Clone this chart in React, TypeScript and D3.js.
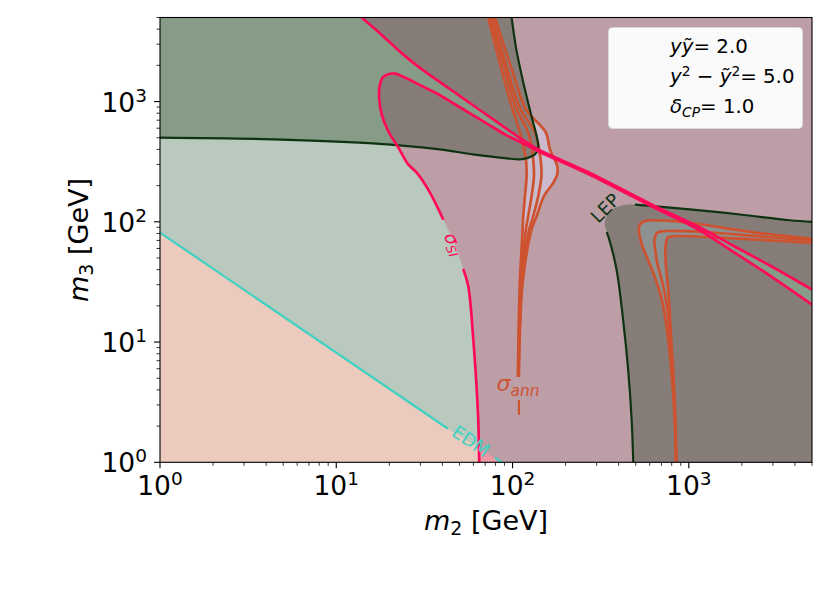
import React, { useEffect } from 'react';
import * as d3 from 'd3';

type P = number[];

// ---------- axes ----------
const xDomain = [1, 5000];
const yDomain = [1, 5000];
const majorTicks = [1, 10, 100, 1000];
const tickExponents = ['0', '1', '2', '3'];

// ---------- EDM bound (m2, m3) ----------
const edmSeg1: P[] = [[1, 81.4], [43, 1.9]];
const edmSeg2: P[] = [[79.4, 1.09], [87.1, 1]];

// ---------- sigma_SI contour ----------
const siLower: P[] = [[64.7, 1], [63.9, 2.25], [62.5, 4.27], [59.9, 10.5], [56.1, 29.1], [52.5, 40.6]];
const siGap: P[] = [[47.1, 64.7]];
const siLoop: P[] = [[40.5, 104], [34, 175], [28.6, 256], [25.6, 300], [22.5, 414], [19.7, 569], [18.1, 783],
  [17.5, 1080], [17.7, 1394], [18.4, 1594], [19.7, 1689], [21.5, 1706], [24.5, 1585], [30.5, 1349],
  [37.9, 1151], [47.1, 950], [58.6, 783], [72.8, 647], [90.5, 534], [113, 455], [140, 385], [264, 253],
  [618, 134], [1157, 84.6], [1778, 56.6], [2884, 35.7], [5000, 20.5]];
const siUpper: P[] = [[13.9, 5000], [16.6, 4004], [19.7, 3199], [24.5, 2399], [30.5, 1858], [37.9, 1485],
  [47.1, 1189], [58.6, 950], [72.8, 759], [90.5, 607], [113, 485], [140, 400], [264, 262], [618, 139],
  [1157, 89.7], [1778, 63.5], [2884, 43.3], [5000, 27.3]];

// ---------- dark green (upper-left) bound ----------
const darkBound: P[] = [[1, 501], [4.38, 485], [16.1, 449], [38.7, 400], [59.6, 364], [93, 337], [110, 331],
  [122, 340], [133, 360], [139, 395], [140, 430], [137, 517], [128, 759], [115, 1449], [105, 2729], [98.8, 5000]];

// ---------- LEP bound ----------
const lepBound: P[] = [[484, 1], [474, 2.25], [453, 5.88], [424, 15.3], [389, 40.1], [349, 75.9], [334, 98.6],
  [357, 122], [423, 137], [495, 139], [1014, 127], [1950, 115], [3748, 103], [5000, 100]];
const lepLeftLine: P[] = [[484, 1], [474, 2.25], [453, 5.88], [424, 15.3], [389, 40.1], [349, 75.9], [342, 82]];
const lepTopLine: P[] = [[495, 139], [1014, 127], [1950, 115], [3748, 103], [5000, 100]];

// ---------- sigma_ann contours, low-mass resonance ----------
const annA1: P[] = [[72.8, 5000], [88.5, 1635], [100.1, 863], [110.2, 552], [119.1, 330.6], [120.2, 240],
  [117.6, 163.5], [115.0, 111.4], [114.1, 86.3], [110.2, 33], [108.3, 12.7], [107.3, 5.14]];
const annA2: P[] = [[75.1, 5000], [92.6, 1635], [105.5, 863], [122.7, 552], [131.0, 330.6], [132.3, 240],
  [128.3, 163.5], [122.7, 111.4], [119.1, 86.3], [111.6, 33], [109.0, 12.7], [107.7, 5.14]];
const annA3: P[] = [[77.1, 5000], [95.8, 1635], [111.2, 863], [134.0, 552], [144.3, 330.6], [145.8, 240],
  [139.9, 163.5], [131.0, 111.4], [124.3, 86.3], [113.1, 33], [109.6, 12.7], [108.1, 5.14]];
const annA4: P[] = [[79.5, 5000], [101.8, 1635], [119.1, 863], [154.7, 552], [163.0, 400], [179.3, 290.6],
  [179.3, 248], [170.2, 211], [150.7, 163.5], [137.0, 111.4], [128.3, 86.3], [114.6, 33], [110.2, 12.7], [108.7, 5.14]];
const annDash: P[] = [[108.7, 3.3], [108.7, 2.48]];

// ---------- sigma_ann contours, heavy region ----------
const annB1: P[] = [[5000, 72.2], [2425, 81.0], [1567, 89.1], [1014, 98.1], [685.8, 102.5], [571, 101.9],
  [528, 94.9], [521.2, 83.0], [542, 64.7], [586.1, 48.5], [628.3, 37.8], [685.8, 25.8], [722.5, 18.6],
  [751.4, 12.7], [781.4, 7.84], [812.6, 4.0], [834, 2.05], [845, 1]];
const annB2: P[] = [[5000, 69.9], [2425, 75.9], [1262, 81.9], [715.9, 83.5], [659.5, 80.7], [638.2, 70],
  [642, 62], [659.5, 46.7], [715.9, 29.1], [756.2, 18.6], [781.4, 11.1], [802, 7.12], [820.1, 4.0],
  [837.3, 2.05], [848.3, 1]];
const annB3: P[] = [[5000, 66.8], [1567, 73.6], [815.8, 75.9], [760, 74], [741, 65.9], [736.8, 58.7],
  [741, 44.1], [761.2, 29.1], [781.4, 16.9], [794.8, 10.5], [812.6, 6.47], [826.5, 4.0], [840.6, 2.05], [851.6, 1]];

// ---------- legend ----------
const legendValues = ['2.0', '5.0', '1.0'];

const W = 830, H = 593;
const PL = 160, PR = 812, PB = 462.3, PT = 17.5;

const x = d3.scaleLog().domain(xDomain).range([PL, PR]);
const y = d3.scaleLog().domain(yDomain).range([PB, PT]);

const smooth = d3.line<P>().x(d => x(d[0])).y(d => y(d[1])).curve(d3.curveCatmullRom.alpha(0.5));
const straight = d3.line<P>().x(d => x(d[0])).y(d => y(d[1]));

function poly(pieces: { pts: P[]; s: boolean }[]) {
  return pieces.map((p, i) => {
    const str = (p.s ? smooth : straight)(p.pts) as string;
    return i === 0 ? str : str.replace(/^M/, 'L');
  }).join('') + 'Z';
}

const FONT = 'DejaVu Sans';
const C = {
  lightGreen: '#b9c9bd', salmon: '#edcabe', mauve: '#be9ea6', pinkOverlap: '#eb98a4',
  darkGreen: '#869c86', grayBrown: '#877d78', lavender: '#cabacb', grayBand: '#8d918f',
  pinkLine: '#ff0a5a', orange: '#cd5230', darkLine: '#0d3311', teal: '#3fd1c1',
};

export default function App() {
  useEffect(() => {
    document.body.style.margin = '0';
    document.body.style.overflow = 'hidden';
  }, []);

  const bigRect = `M${x(0.5)},${y(0.5)}H${x(8000)}V${y(8000)}H${x(0.5)}Z`;
  const allowed = poly([
    { pts: [[0.5, 0.5], [64.7, 0.5]], s: false },
    { pts: [...siLower, ...siGap, ...siLoop], s: true },
    { pts: [[5000, 20.5], [8000, 20.5], [8000, 27.3], [5000, 27.3]], s: false },
    { pts: [...siUpper].reverse(), s: true },
    { pts: [[13.9, 5000], [13.9, 8000], [0.5, 8000]], s: false },
  ]);
  const sPath = bigRect + allowed;
  const ePath = poly([{ pts: [[0.5, 0.5], [0.5, 81.4], ...edmSeg1, [87.1, 1], [87.1, 0.5]], s: false }]);
  const gPath = poly([
    { pts: [[0.5, 8000], [0.5, 501]], s: false },
    { pts: darkBound, s: true },
    { pts: [[98.8, 5000], [98.8, 8000]], s: false },
  ]);
  const lPath = poly([
    { pts: [[8000, 0.5], [484, 0.5]], s: false },
    { pts: lepBound, s: true },
    { pts: [[5000, 100], [8000, 100]], s: false },
  ]);
  const bandA = poly([{ pts: annA1, s: true }, { pts: [...annA4].reverse(), s: true }]);
  const bandB = poly([{ pts: annB1, s: true }, { pts: [...annB3].reverse(), s: true }]);

  const minor: number[] = [];
  for (let k = 0; k < 4; k++) for (let m = 2; m <= 9; m++) { const v = m * 10 ** k; if (v <= 5000) minor.push(v); }

  const ln = (pts: P[], color: string, w: number, key: string) =>
    <path key={key} d={smooth(pts) as string} fill="none" stroke={color} strokeWidth={w} strokeLinejoin="round" strokeLinecap="butt" />;

  return (
    <svg width={W} height={H} style={{ position: 'absolute', left: 0, top: 0, background: '#fff' }} fontFamily={FONT}>
      <defs>
        <clipPath id="plotClip"><rect x={PL} y={PT} width={PR - PL} height={PB - PT} /></clipPath>
        <clipPath id="sClip"><path d={sPath} clipRule="evenodd" /></clipPath>
      </defs>
      <rect x={0} y={0} width={W} height={H} fill="#fff" />
      <g clipPath="url(#plotClip)">
        <rect x={PL} y={PT} width={PR - PL} height={PB - PT} fill={C.lightGreen} />
        <path d={ePath} fill={C.salmon} />
        <path d={sPath} fill={C.mauve} fillRule="evenodd" />
        <g clipPath="url(#sClip)">
          <path d={ePath} fill={C.pinkOverlap} />
          <path d={bandA} fill={C.lavender} />
        </g>
        <path d={gPath} fill={C.darkGreen} />
        <path d={lPath} fill={C.darkGreen} />
        <g clipPath="url(#sClip)">
          <path d={gPath} fill={C.grayBrown} />
          <path d={lPath} fill={C.grayBrown} />
          <path d={bandB} fill={C.grayBand} />
        </g>

        {/* sigma_ann lines */}
        {[annA1, annA2, annA3, annA4].map((c, i) => ln(c, C.orange, 2.7, 'a' + i))}
        {ln(annDash, C.orange, 2.2, 'dash')}
        {[annB1, annB2, annB3].map((c, i) => ln(c, C.orange, 2.7, 'b' + i))}

        {/* dark green bounds */}
        {ln(darkBound, C.darkLine, 2.2, 'g')}
        {ln(lepLeftLine, C.darkLine, 2.2, 'll')}
        {ln(lepTopLine, C.darkLine, 2.2, 'lt')}

        {/* sigma_SI */}
        {ln(siLower, C.pinkLine, 2.7, 's1')}
        {ln(siLoop, C.pinkLine, 2.7, 's2')}
        {ln(siUpper, C.pinkLine, 2.7, 's3')}

        {/* EDM */}
        {ln(edmSeg1, C.teal, 2.2, 'e1')}
        {ln(edmSeg2, C.teal, 2.2, 'e2')}
      </g>

      {/* contour labels */}
      <text transform="translate(454,244) rotate(68)" textAnchor="middle" dominantBaseline="central"
        fontSize={18} fill={C.pinkLine} fontStyle="italic">σ<tspan fontSize={12.6} dy={4}>SI</tspan></text>
      <text transform="translate(471,441) rotate(33.8)" textAnchor="middle" dominantBaseline="central"
        fontSize={18} fill={C.teal}>EDM</text>
      <text transform="translate(605,208) rotate(-45)" textAnchor="middle" dominantBaseline="central"
        fontSize={18} fill={C.darkLine}>LEP</text>
      <text x={518} y={391} textAnchor="middle" fontSize={22} fill={C.orange} fontStyle="italic">σ<tspan fontSize={15.4} dy={5}>ann</tspan></text>

      {/* legend */}
      <rect x={608.5} y={27.5} width={194} height={101} rx={4} fill="#fbfafa" stroke="#d8d8d8" strokeWidth={1} />
      <text x={670} y={53.3} fontSize={19.8} fill="#000">
        <tspan fontStyle="italic">yỹ</tspan>= {legendValues[0]}
      </text>
      <text x={670} y={83.3} fontSize={19.8} fill="#000">
        <tspan fontStyle="italic">y</tspan><tspan fontSize={13.8} dy={-7.5}>2</tspan><tspan dy={7.5}> − </tspan>
        <tspan fontStyle="italic">ỹ</tspan><tspan fontSize={13.8} dy={-7.5}>2</tspan><tspan dy={7.5}>= {legendValues[1]}</tspan>
      </text>
      <text x={670} y={113.3} fontSize={19.8} fill="#000">
        <tspan fontStyle="italic">δ</tspan><tspan fontStyle="italic" fontSize={13.8} dy={4}>CP</tspan><tspan dy={-4}>= {legendValues[2]}</tspan>
      </text>

      {/* ticks */}
      {majorTicks.map(v => (
        <g key={'mx' + v}>
          <line x1={x(v)} x2={x(v)} y1={PB} y2={PB + 6} stroke="#000" strokeWidth={1.1} />
          <line x1={PL - 6} x2={PL} y1={y(v)} y2={y(v)} stroke="#000" strokeWidth={1.1} />
        </g>
      ))}
      {minor.map(v => (
        <g key={'mn' + v}>
          <line x1={x(v)} x2={x(v)} y1={PB} y2={PB + 3.5} stroke="#000" strokeWidth={0.8} />
          <line x1={PL - 3.5} x2={PL} y1={y(v)} y2={y(v)} stroke="#000" strokeWidth={0.8} />
        </g>
      ))}
      {majorTicks.map((v, i) => (
        <text key={'xl' + v} x={x(v)} y={495} textAnchor="middle" fontSize={26.5} fill="#000">
          10<tspan fontSize={18.5} dy={-10}>{tickExponents[i]}</tspan>
        </text>
      ))}
      {majorTicks.map((v, i) => (
        <text key={'yl' + v} x={147} y={y(v) + 10} textAnchor="end" fontSize={26.5} fill="#000">
          10<tspan fontSize={18.5} dy={-10}>{tickExponents[i]}</tspan>
        </text>
      ))}

      {/* axis labels */}
      <text x={486} y={530} textAnchor="middle" fontSize={27} fill="#000">
        <tspan fontStyle="italic">m</tspan><tspan fontSize={19} dy={5}>2</tspan><tspan dy={-5}> [GeV]</tspan>
      </text>
      <text transform="translate(88,240) rotate(-90)" textAnchor="middle" fontSize={27} fill="#000">
        <tspan fontStyle="italic">m</tspan><tspan fontSize={19} dy={5}>3</tspan><tspan dy={-5}> [GeV]</tspan>
      </text>

      <rect x={PL} y={PT} width={PR - PL} height={PB - PT} fill="none" stroke="#000" strokeWidth={1.1} />
    </svg>
  );
}
